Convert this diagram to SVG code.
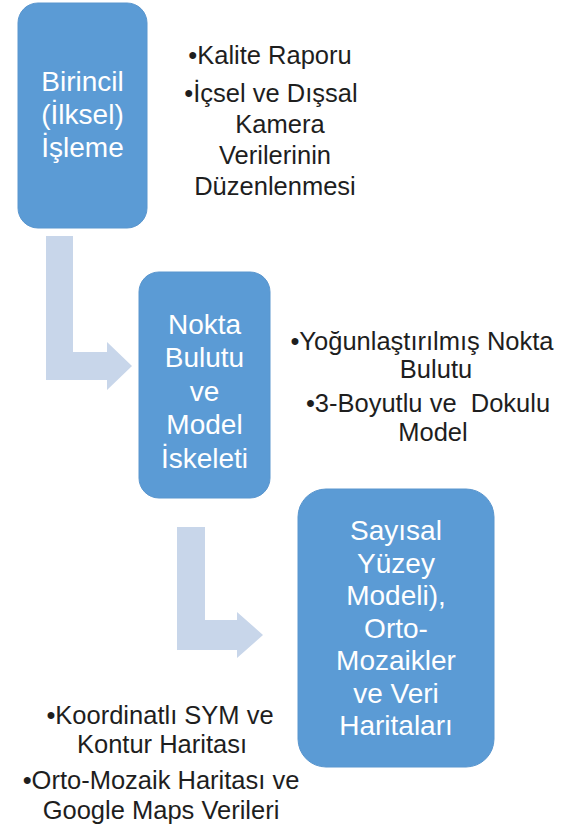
<svg xmlns="http://www.w3.org/2000/svg" width="565" height="836" viewBox="0 0 565 836">
<style>
.box{fill:#5B9BD5;stroke:#5A96CE;stroke-width:1}
.bt{font-family:"Liberation Sans",Arial,sans-serif;font-size:28px;fill:#FFFFFF;text-anchor:middle}
.lt{font-family:"Liberation Sans",Arial,sans-serif;font-size:25.5px;fill:#1E1E1E;text-anchor:middle;white-space:pre}
.arr{fill:#C8D6EA}
</style>
<rect width="565" height="836" fill="#FFFFFF"/>
<g id="connectors">
<polygon class="arr" points="46,236 73,236 73,352 107,352 107,342 132,366 107,390 107,380 46,380"/>
<polygon class="arr" points="177,527 205,527 205,620 237,620 237,612 263,635 237,658 237,650 177,650"/>
</g>
<g id="node1">
<rect class="box" x="18" y="3" width="129" height="225" rx="20"/>
<text class="bt" x="82.5" y="91">Birincil</text>
<text class="bt" x="82.5" y="124">(İlksel)</text>
<text class="bt" x="82.5" y="157">İşleme</text>
</g>
<g id="node2">
<rect class="box" x="139" y="272" width="131" height="226" rx="20"/>
<text class="bt" x="204.5" y="334">Nokta</text>
<text class="bt" x="204.5" y="367">Bulutu</text>
<text class="bt" x="204.5" y="401">ve</text>
<text class="bt" x="204.5" y="434">Model</text>
<text class="bt" x="204.5" y="468">İskeleti</text>
</g>
<g id="node3">
<rect class="box" x="298" y="489" width="196" height="278" rx="28"/>
<text class="bt" x="396" y="540">Sayısal</text>
<text class="bt" x="396" y="572.5">Yüzey</text>
<text class="bt" x="396" y="605">Modeli),</text>
<text class="bt" x="396" y="637.5">Orto-</text>
<text class="bt" x="396" y="670">Mozaikler</text>
<text class="bt" x="396" y="702.5">ve Veri</text>
<text class="bt" x="396" y="735">Haritaları</text>
</g>
<g id="notes1">
<text class="lt" x="270" y="64">•Kalite Raporu</text>
<text class="lt" x="271" y="102">•İçsel ve Dışsal</text>
<text class="lt" x="280" y="133">Kamera</text>
<text class="lt" x="275" y="164">Verilerinin</text>
<text class="lt" x="275" y="195">Düzenlenmesi</text>
</g>
<g id="notes2">
<text class="lt" x="422" y="350">•Yoğunlaştırılmış Nokta</text>
<text class="lt" x="436" y="378">Bulutu</text>
<text class="lt" x="428" y="412">•3-Boyutlu ve  Dokulu</text>
<text class="lt" x="433" y="441">Model</text>
</g>
<g id="notes3">
<text class="lt" x="160" y="724">•Koordinatlı SYM ve</text>
<text class="lt" x="162" y="753">Kontur Haritası</text>
<text class="lt" x="161" y="789">•Orto-Mozaik Haritası ve</text>
<text class="lt" x="161" y="819">Google Maps Verileri</text>
</g>
</svg>
